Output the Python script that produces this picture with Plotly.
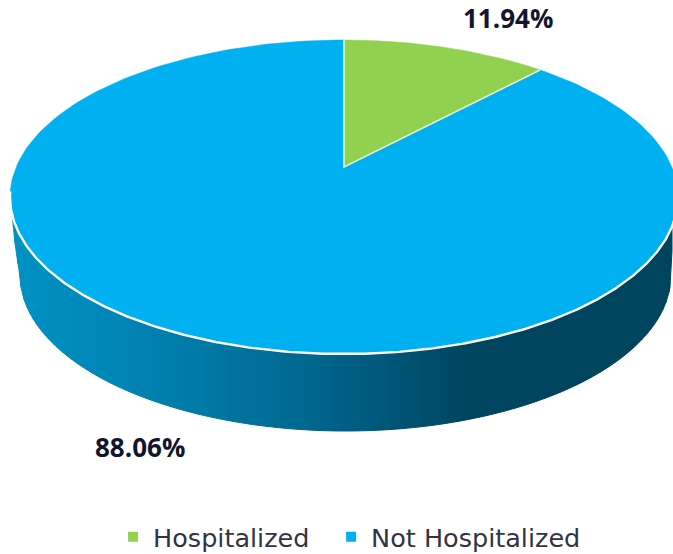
import numpy as np
import plotly.graph_objects as go

categories = ["Hospitalized", "Not Hospitalized"]
values = [11.94, 88.06]
colors = ["#92D050", "#00B0F0"]
label_positions = [(507.5, 18), (139.5, 447)]
side_stops = [(13, (0, 146, 196)), (100, (0, 136, 184)), (200, (0, 122, 167)),
              (300, (0, 105, 145)), (400, (0, 84, 117)), (470, (0, 69, 96)), (675, (0, 68, 94))]

CX, CY, RX, RY = 344, 197, 334, 157
APEX_DY = 30
LOW_CX, LOW_CY, LOW_RX, LOW_RY = 345.5, 275, 325.5, 156


def project(u, v):
    """Perspective map of the unit disc onto the tilted pie top."""
    c = 2 * APEX_DY / (2 * RY)
    d = RX * np.sqrt(1 - (APEX_DY / RY) ** 2)
    den = 1 + c * v
    return CX + d * u / den, CY - (RY * v + APEX_DY) / den


fig = go.Figure()

# pie side: vertical gradient bands between the top rim and the lower rim
edges = np.arange(12, 674, 3.0)
stop_x = [s[0] for s in side_stops]
lx0, lx1 = LOW_CX - LOW_RX, LOW_CX + LOW_RX
for x0, x1 in zip(edges[:-1], edges[1:]):
    xs = np.linspace(x0, x1, 4)
    top = CY + RY * np.sqrt(np.clip(1 - ((xs - CX) / RX) ** 2, 0, 1))
    bot = LOW_CY + LOW_RY * np.sqrt(np.clip(1 - ((xs - LOW_CX) / LOW_RX) ** 2, 0, 1))
    # beyond the lower ellipse the wall tapers up to the point where it meets the rim
    bot = np.where(xs < lx0, top + (LOW_CY - top) * np.clip((xs - 12) / (lx0 - 12), 0, 1), bot)
    bot = np.where(xs > lx1, top + (LOW_CY - top) * np.clip((673 - xs) / (673 - lx1), 0, 1), bot)
    xm = (x0 + x1) / 2
    rgb = [np.interp(xm, stop_x, [s[1][k] for s in side_stops]) for k in range(3)]
    col = "rgb(%d,%d,%d)" % tuple(rgb)
    fig.add_trace(go.Scatter(
        x=np.r_[xs, xs[::-1]], y=np.r_[top, bot[::-1]], mode="lines",
        fill="toself", fillcolor=col, line=dict(color=col, width=1),
        hoverinfo="skip", showlegend=False))

# pie top: slices follow the data
start = 0.0
total = sum(values)
wedges = []
for val, col in zip(values, colors):
    sweep = val / total * 2 * np.pi
    th = np.linspace(start, start + sweep, 200)
    ax, ay = project(np.sin(th), np.cos(th))
    ox, oy = project(0.0, 0.0)
    wedges.append((np.r_[ox, ax, ox], np.r_[oy, ay, oy], col))
    start += sweep

for wx, wy, col in wedges[::-1]:
    fig.add_trace(go.Scatter(
        x=wx, y=wy, mode="lines", fill="toself", fillcolor=col,
        line=dict(color=col, width=0.5), hoverinfo="skip", showlegend=False))

# light slice borders
bx, by = wedges[0][0], wedges[0][1]
fig.add_trace(go.Scatter(x=[bx[-2], bx[0], bx[1]], y=[by[-2], by[0], by[1]], mode="lines",
                         line=dict(color="#E4F3D0", width=1.6),
                         hoverinfo="skip", showlegend=False))

# white rim along the front edge
th = np.linspace(np.pi * 0.55, np.pi * 1.45, 300)
rx_, ry_ = project(np.sin(th), np.cos(th))
fig.add_trace(go.Scatter(x=rx_, y=ry_, mode="lines", line=dict(color="white", width=2.4),
                         hoverinfo="skip", showlegend=False))

# legend entries, each in its own legend so they can be spaced as in the reference
for name, col, lg in zip(categories, colors, ["legend", "legend2"]):
    fig.add_trace(go.Scatter(x=[None], y=[None], mode="markers", name=name, legend=lg,
                             marker=dict(symbol="square", size=10, color=col)))

annotations = [
    dict(x=p[0], y=p[1], text=f"<b>{v:.2f}%</b>", showarrow=False, xref="x", yref="y",
         font=dict(family="Open Sans", size=26, color="#14142a"))
    for v, p in zip(values, label_positions)
]

legend_style = dict(orientation="h", xanchor="left", y=-0.012, yanchor="bottom",
                    font=dict(family="DejaVu Sans", size=25.5, color="#333344"),
                    itemwidth=30, bgcolor="rgba(0,0,0,0)")

fig.update_layout(
    width=673, height=554, margin=dict(l=0, r=0, t=0, b=0, autoexpand=False),
    paper_bgcolor="white", plot_bgcolor="white",
    xaxis=dict(range=[0, 673], visible=False, fixedrange=True),
    yaxis=dict(range=[554, 0], visible=False, fixedrange=True),
    annotations=annotations,
    legend=dict(x=0.168, **legend_style),
    legend2=dict(x=0.492, **legend_style),
)

fig.write_html("out.html", config={"displayModeBar": False},
               post_script="document.body.style.margin='0';")
